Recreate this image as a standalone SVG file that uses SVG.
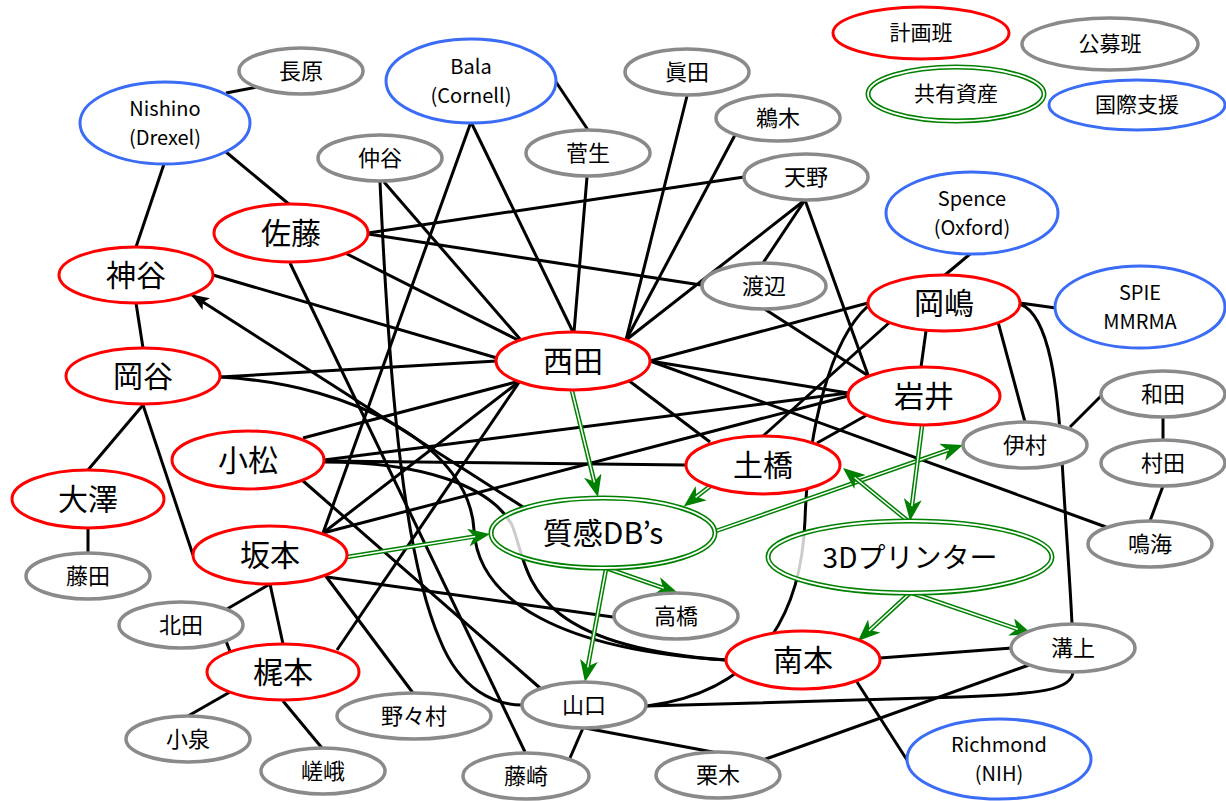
<svg xmlns="http://www.w3.org/2000/svg" width="1226" height="801" viewBox="0 0 1226 801">
<defs>
<style>
.c{stroke:#000;stroke-width:3;fill:none}
.go{stroke:#008000;stroke-width:4.5;fill:none}
.gi{stroke:#fff;stroke-width:1.5;fill:none}
.red{stroke:#ff0000;stroke-width:3;fill:#fff}
.gray{stroke:#8a8a8a;stroke-width:3.5;fill:#fff}
.blue{stroke:#3b6cf5;stroke-width:3;fill:#fff}
.gro{stroke:#008000;stroke-width:5;fill:#fff;fill-opacity:0.8}
.gri{stroke:#fff;stroke-width:1.8;fill:none}
text{font-family:"Noto Sans CJK JP","Noto Sans",sans-serif;fill:#000;text-anchor:middle}
.t30{font-size:30px}
.t22{font-size:22px}
.t21{font-size:21px}
.t20{font-size:20px}
</style>
<marker id="ga" markerUnits="userSpaceOnUse" viewBox="0 0 22 18" markerWidth="22" markerHeight="18" refX="7" refY="9" orient="auto"><path d="M0,0 L22,9 L0,18 L6,9 z" fill="#008000"/></marker>
<marker id="ba" markerUnits="userSpaceOnUse" viewBox="0 0 18 14" markerWidth="18" markerHeight="14" refX="17" refY="7" orient="auto"><path d="M0,0 L18,7 L0,14 L4,7 z" fill="#000"/></marker>
</defs>
<rect width="1226" height="801" fill="#fff"/>
<g id="connectors">
<path class="c" d="M226,93 L257,87"/>
<path class="c" d="M164,164 L136,247"/>
<path class="c" d="M226,152 L290,205"/>
<path class="c" d="M136,303 L143,348"/>
<path class="c" d="M213,275 L497,358"/>
<path class="c" d="M220,377 L497,361"/>
<path class="c" d="M143,405 L88,470"/>
<path class="c" d="M143,405 L193,555"/>
<path class="c" d="M88,528 L88,553"/>
<path class="c" d="M220,377 C360,385 470,450 474,530 C478,600 560,650 726,660"/>
<path class="c" d="M324,462 C420,462 490,485 512,525 C530,570 520,645 726,660"/>
<path class="c" d="M303,438 L520,381"/>
<path class="c" d="M324,460 L848,393"/>
<path class="c" d="M324,461 L686,465"/>
<path class="c" d="M302,480 L540,688"/>
<path class="c" d="M368,233 L744,177"/>
<path class="c" d="M368,234 L701,285"/>
<path class="c" d="M345,253 L518,340"/>
<path class="c" d="M290,263 L525,752"/>
<path class="c" d="M384,182 L520,339"/>
<path class="c" d="M380,182 C390,400 405,560 440,640 C460,690 495,705 522,705"/>
<path class="c" d="M471,122 L573,332"/>
<path class="c" d="M471,122 L323,533"/>
<path class="c" d="M556,82 L588,130"/>
<path class="c" d="M587,177 L574,332"/>
<path class="c" d="M687,96 L626,340"/>
<path class="c" d="M735,135 L626,340"/>
<path class="c" d="M805,200 L626,340"/>
<path class="c" d="M805,200 L763,263"/>
<path class="c" d="M805,200 L868,375"/>
<path class="c" d="M763,308 L867,375"/>
<path class="c" d="M650,361 L868,303"/>
<path class="c" d="M650,361 L848,393"/>
<path class="c" d="M650,361 L1106,527"/>
<path class="c" d="M628,380 L710,442"/>
<path class="c" d="M323,533 L520,381"/>
<path class="c" d="M323,533 L848,396"/>
<path class="c" d="M337,650 L520,381"/>
<path class="c" d="M270,584 L227,609"/>
<path class="c" d="M270,584 L283,644"/>
<path class="c" d="M325,575 L413,693"/>
<path class="c" d="M327,577 L613,617"/>
<path class="c" d="M226,641 L231,654"/>
<path class="c" d="M230,692 L188,716"/>
<path class="c" d="M283,701 L322,748"/>
<path class="c" d="M763,436 L890,322"/>
<path class="c" d="M817,443 L867,415"/>
<path class="c" d="M945,275 L970,254"/>
<path class="c" d="M1020,303 L1056,308"/>
<path class="c" d="M926,331 L921,367"/>
<path class="c" d="M998,322 L1025,422"/>
<path class="c" d="M1020,304 C1050,315 1058,390 1062,460 C1066,530 1070,580 1072,624"/>
<path class="c" d="M868,306 C830,340 808,430 805,520 C802,600 770,690 647,706"/>
<path class="c" d="M1102,395 L1070,427"/>
<path class="c" d="M1163,417 L1163,441"/>
<path class="c" d="M1163,486 L1150,521"/>
<path class="c" d="M880,658 L1012,648"/>
<path class="c" d="M857,682 L907,760"/>
<path class="c" d="M1029,665 L763,760"/>
<path class="c" d="M1073,672 C1072,690 1040,694 960,697 L647,706"/>
<path class="c" d="M583,728 L570,758"/>
<path class="c" d="M585,728 L718,753"/>
<path class="c" d="M523,507 L192,295" marker-end="url(#ba)"/>
</g>
<g id="green-connectors">
<path class="go" d="M572,391 L594.4,482.4" marker-end="url(#ga)"/><path class="gi" d="M572,391 L594.4,482.4"/>
<path class="go" d="M713,484 L695.6,497.4" marker-end="url(#ga)"/><path class="gi" d="M713,484 L695.6,497.4"/>
<path class="go" d="M347,557 L475.2,536.4" marker-end="url(#ga)"/><path class="gi" d="M347,557 L475.2,536.4"/>
<path class="go" d="M716,531 L948.8,449.9" marker-end="url(#ga)"/><path class="gi" d="M716,531 L948.8,449.9"/>
<path class="go" d="M922,426 L911.9,506.1" marker-end="url(#ga)"/><path class="gi" d="M922,426 L911.9,506.1"/>
<path class="go" d="M908,521 L854.6,477.5" marker-end="url(#ga)"/><path class="gi" d="M908,521 L854.6,477.5"/>
<path class="go" d="M606,568 L663.8,588.1" marker-end="url(#ga)"/><path class="gi" d="M606,568 L663.8,588.1"/>
<path class="go" d="M606,569 L587.7,667.3" marker-end="url(#ga)"/><path class="gi" d="M606,569 L587.7,667.3"/>
<path class="go" d="M910,593 L869,630.8" marker-end="url(#ga)"/><path class="gi" d="M910,593 L869,630.8"/>
<path class="go" d="M912,593 L1017.8,629.2" marker-end="url(#ga)"/><path class="gi" d="M912,593 L1017.8,629.2"/>
</g>
<g id="n_nagahara"><ellipse class="gray" cx="301" cy="71" rx="62" ry="23"/><text class="t22" x="301" y="79">長原</text></g>
<g id="n_nishino"><ellipse class="blue" cx="165" cy="123" rx="85" ry="41"/><text class="t20" x="165" y="116">Nishino</text><text class="t20" x="165" y="145">(Drexel)</text></g>
<g id="n_bala"><ellipse class="blue" cx="471" cy="81" rx="85" ry="42"/><text class="t20" x="471" y="74">Bala</text><text class="t20" x="471" y="103">(Cornell)</text></g>
<g id="n_nakatani"><ellipse class="gray" cx="380" cy="158" rx="62" ry="23"/><text class="t22" x="380" y="166">仲谷</text></g>
<g id="n_sato"><ellipse class="red" cx="291" cy="233" rx="77" ry="29"/><text class="t30" x="291" y="244">佐藤</text></g>
<g id="n_kamitani"><ellipse class="red" cx="136" cy="275" rx="77" ry="28"/><text class="t30" x="136" y="286">神谷</text></g>
<g id="n_okaya"><ellipse class="red" cx="143" cy="376" rx="77" ry="28"/><text class="t30" x="143" y="387">岡谷</text></g>
<g id="n_sugo"><ellipse class="gray" cx="588" cy="153" rx="62" ry="23"/><text class="t22" x="588" y="161">菅生</text></g>
<g id="n_sanada"><ellipse class="gray" cx="687" cy="72" rx="62" ry="23"/><text class="t22" x="687" y="80">眞田</text></g>
<g id="n_unoki"><ellipse class="gray" cx="778" cy="118" rx="62" ry="23"/><text class="t22" x="778" y="126">鵜木</text></g>
<g id="n_amano"><ellipse class="gray" cx="806" cy="177" rx="62" ry="23"/><text class="t22" x="806" y="185">天野</text></g>
<g id="n_watanabe"><ellipse class="gray" cx="764" cy="286" rx="62" ry="23"/><text class="t22" x="764" y="294">渡辺</text></g>
<g id="n_nishida"><ellipse class="red" cx="573" cy="361" rx="77" ry="29"/><text class="t30" x="573" y="372">西田</text></g>
<g id="n_spence"><ellipse class="blue" cx="972" cy="213" rx="86" ry="41"/><text class="t20" x="972" y="206">Spence</text><text class="t20" x="972" y="235">(Oxford)</text></g>
<g id="n_okajima"><ellipse class="red" cx="944" cy="303" rx="76" ry="28"/><text class="t30" x="944" y="314">岡嶋</text></g>
<g id="n_spie"><ellipse class="blue" cx="1140" cy="307" rx="85" ry="41"/><text class="t20" x="1140" y="300">SPIE</text><text class="t20" x="1140" y="329">MMRMA</text></g>
<g id="n_iwai"><ellipse class="red" cx="924" cy="396" rx="76" ry="29"/><text class="t30" x="924" y="407">岩井</text></g>
<g id="n_wada"><ellipse class="gray" cx="1163" cy="394" rx="62" ry="23"/><text class="t22" x="1163" y="402">和田</text></g>
<g id="n_imura"><ellipse class="gray" cx="1025" cy="445" rx="62" ry="23"/><text class="t22" x="1025" y="453">伊村</text></g>
<g id="n_murata"><ellipse class="gray" cx="1163" cy="463" rx="62" ry="23"/><text class="t22" x="1163" y="471">村田</text></g>
<g id="n_narumi"><ellipse class="gray" cx="1150" cy="544" rx="62" ry="23"/><text class="t22" x="1150" y="552">鳴海</text></g>
<g id="n_3dprinter"><ellipse class="gro" cx="910" cy="557" rx="142" ry="36"/><ellipse class="gri" cx="910" cy="557" rx="142" ry="36"/><text class="t30" x="910" y="568" style="font-size:28px">3Dプリンター</text></g>
<g id="n_dobashi"><ellipse class="red" cx="763" cy="465" rx="77" ry="29"/><text class="t30" x="763" y="476">土橋</text></g>
<g id="n_db"><ellipse class="gro" cx="603" cy="533" rx="112" ry="35"/><ellipse class="gri" cx="603" cy="533" rx="112" ry="35"/><text class="t30" x="603" y="544">質感DB’s</text></g>
<g id="n_komatsu"><ellipse class="red" cx="248" cy="460" rx="76" ry="29"/><text class="t30" x="248" y="471">小松</text></g>
<g id="n_osawa"><ellipse class="red" cx="88" cy="499" rx="76" ry="29"/><text class="t30" x="88" y="510">大澤</text></g>
<g id="n_fujita"><ellipse class="gray" cx="88" cy="576" rx="62" ry="23"/><text class="t22" x="88" y="584">藤田</text></g>
<g id="n_sakamoto"><ellipse class="red" cx="270" cy="555" rx="77" ry="29"/><text class="t30" x="270" y="566">坂本</text></g>
<g id="n_kitada"><ellipse class="gray" cx="181" cy="625" rx="62" ry="23"/><text class="t22" x="181" y="633">北田</text></g>
<g id="n_kajimoto"><ellipse class="red" cx="283" cy="672" rx="76" ry="28"/><text class="t30" x="283" y="683">梶本</text></g>
<g id="n_koizumi"><ellipse class="gray" cx="188" cy="739" rx="62" ry="23"/><text class="t22" x="188" y="747">小泉</text></g>
<g id="n_saga"><ellipse class="gray" cx="323" cy="771" rx="62" ry="23"/><text class="t22" x="323" y="779">嵯峨</text></g>
<g id="n_nonomura"><ellipse class="gray" cx="414" cy="716" rx="77" ry="23"/><text class="t22" x="414" y="724">野々村</text></g>
<g id="n_takahashi"><ellipse class="gray" cx="676" cy="616" rx="62" ry="23"/><text class="t22" x="676" y="624">高橋</text></g>
<g id="n_yamaguchi"><ellipse class="gray" cx="584" cy="705" rx="62" ry="23"/><text class="t22" x="584" y="713">山口</text></g>
<g id="n_fujisaki"><ellipse class="gray" cx="526" cy="776" rx="63" ry="23"/><text class="t22" x="526" y="784">藤崎</text></g>
<g id="n_kuriki"><ellipse class="gray" cx="718" cy="775" rx="62" ry="23"/><text class="t22" x="718" y="783">栗木</text></g>
<g id="n_minamimoto"><ellipse class="red" cx="803" cy="660" rx="77" ry="29"/><text class="t30" x="803" y="671">南本</text></g>
<g id="n_mizokami"><ellipse class="gray" cx="1073" cy="648" rx="62" ry="24"/><text class="t22" x="1073" y="656">溝上</text></g>
<g id="n_richmond"><ellipse class="blue" cx="999" cy="759" rx="92" ry="40"/><text class="t20" x="999" y="752">Richmond</text><text class="t20" x="999" y="781">(NIH)</text></g>
<g id="legend_keikaku"><ellipse class="red" cx="921" cy="33" rx="88" ry="26"/><text class="t21" x="921" y="40">計画班</text></g>
<g id="legend_kobo"><ellipse class="gray" cx="1110" cy="44" rx="88" ry="26"/><text class="t21" x="1110" y="51">公募班</text></g>
<g id="legend_kyoyu"><ellipse class="gro" cx="956" cy="94" rx="88" ry="27" style="fill-opacity:1"/><ellipse class="gri" cx="956" cy="94" rx="88" ry="27"/><text class="t21" x="956" y="101">共有資産</text></g>
<g id="legend_kokusai"><ellipse class="blue" cx="1137" cy="105" rx="88" ry="25"/><text class="t21" x="1137" y="112">国際支援</text></g>
</svg>
